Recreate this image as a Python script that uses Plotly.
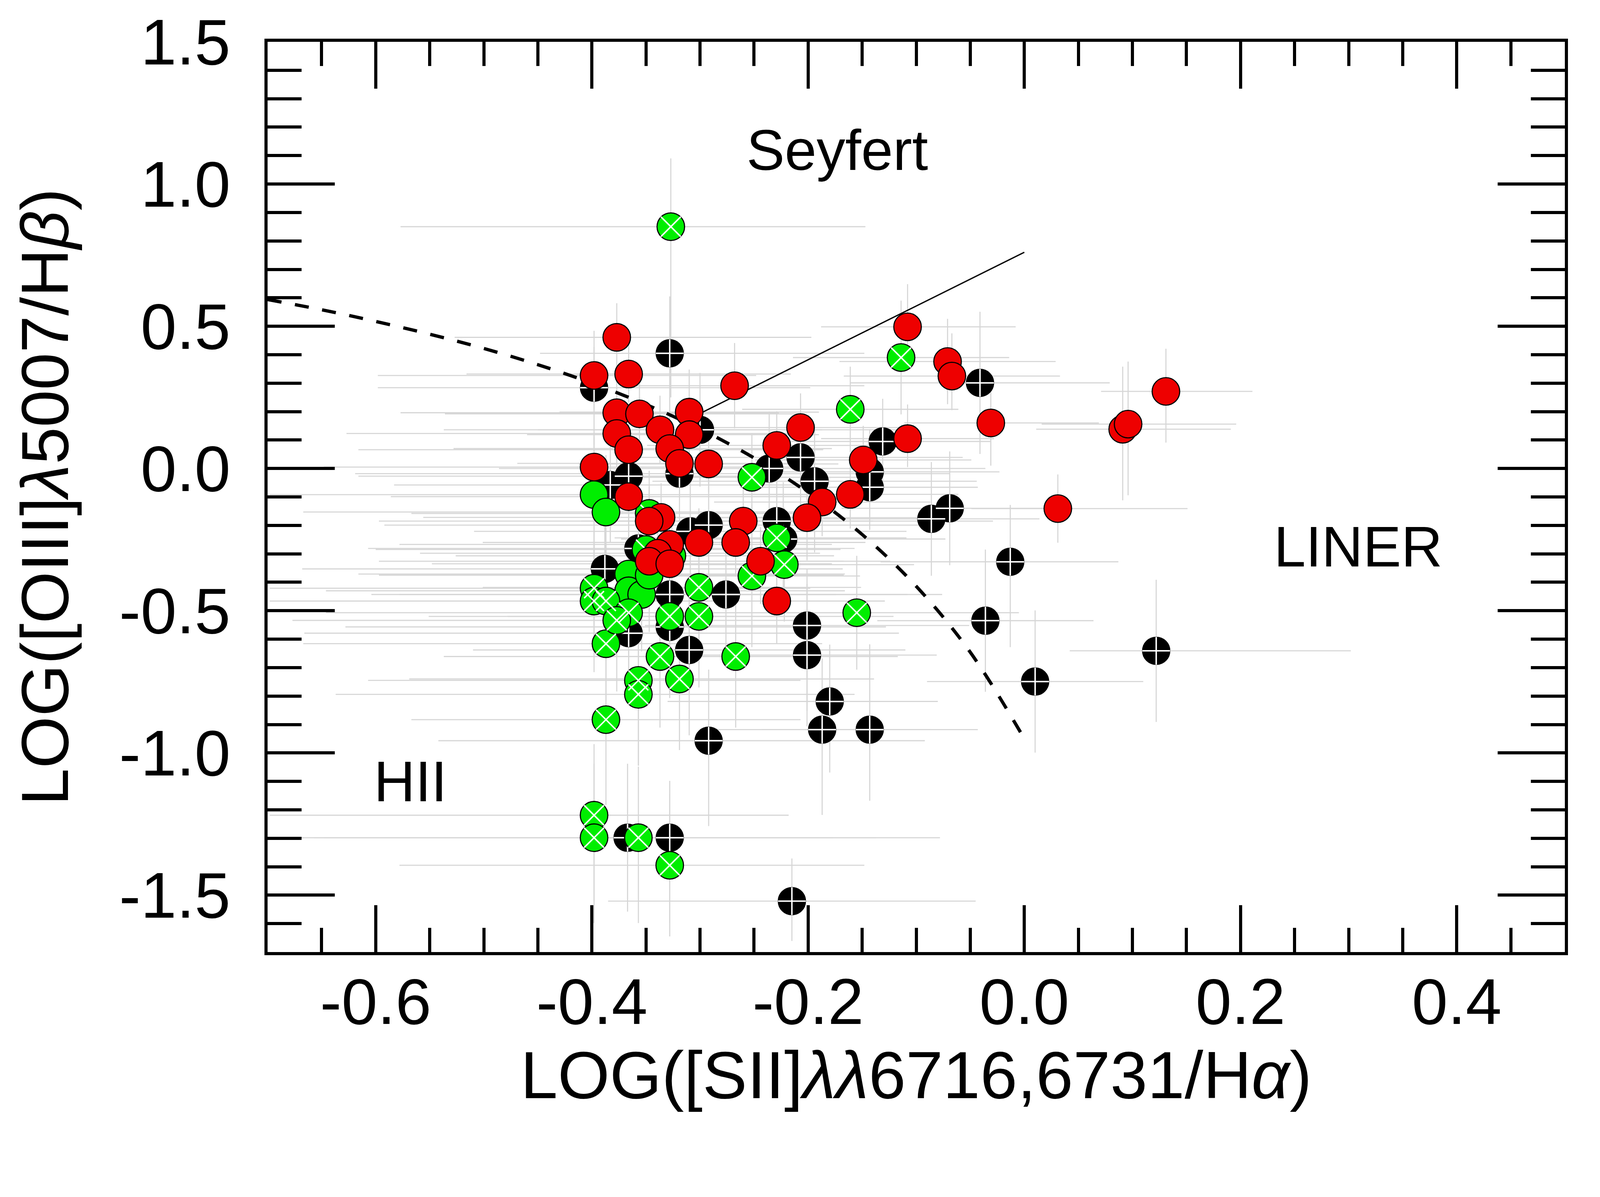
import plotly.graph_objects as go

# points rouges
red_x = [-0.377, -0.398, -0.366, -0.268, -0.108, -0.071, -0.067, -0.031, -0.377, -0.356, -0.310, -0.377, -0.337, -0.310,
         -0.366, -0.328, -0.319, -0.292, -0.398, -0.366, -0.207, -0.229, -0.149, -0.108, -0.161, -0.187, -0.201, -0.336,
         -0.347, -0.260, -0.301, -0.267, -0.328, -0.339, -0.347, -0.328, -0.244, -0.229, 0.091, 0.096, 0.131, 0.031]
red_y = [0.461, 0.327, 0.332, 0.291, 0.498, 0.376, 0.325, 0.160, 0.196, 0.192, 0.198, 0.123, 0.136, 0.119,
         0.066, 0.070, 0.018, 0.016, 0.005, -0.099, 0.144, 0.081, 0.030, 0.105, -0.091, -0.118, -0.173, -0.172,
         -0.185, -0.185, -0.260, -0.260, -0.267, -0.298, -0.326, -0.335, -0.326, -0.466, 0.138, 0.156, 0.271, -0.141]
red_ex_lo = [.15, .20, .15, .10, .08, .10, .10, .08, .20, .18, .12, .25, .20, .15, .25, .20, .15, .12, .25, .22, .10,
             .12, .10, .08, .10, .10, .12, .22, .25, .15, .20, .15, .25, .22, .25, .22, .15, .12, .08, .08, .06, .08]
red_ex_hi = [.18, .15, .15, .12, .10, .10, .10, .10, .15, .15, .12, .18, .15, .12, .18, .15, .12, .12, .20, .18, .10,
             .10, .10, .08, .10, .10, .12, .15, .18, .12, .15, .12, .15, .15, .18, .15, .12, .10, .10, .10, .08, .12]
red_ey_lo = [.10, .12, .10, .15, .12, .15, .12, .15, .15, .12, .15, .12, .12, .15, .12, .12, .12, .10, .15, .15, .12,
             .12, .12, .10, .12, .12, .15, .12, .12, .12, .15, .12, .12, .12, .12, .12, .15, .15, .25, .25, .18, .12]
red_ey_hi = [.12, .10, .12, .15, .15, .15, .15, .15, .12, .12, .15, .12, .12, .12, .12, .12, .12, .10, .12, .12, .12,
             .12, .12, .12, .12, .12, .12, .12, .12, .12, .12, .12, .12, .12, .12, .12, .12, .15, .22, .22, .15, .12]

# points noirs (croix blanche)
black_x = [-0.328, -0.398, -0.300, -0.041, -0.131, -0.207, -0.236, -0.194, -0.143, -0.143, -0.086, -0.069, -0.366,
           -0.319, -0.383, -0.292, -0.229, -0.223, -0.309, -0.357, -0.388, -0.276, -0.328, -0.328, -0.310, -0.366,
           -0.201, -0.201, -0.180, -0.187, -0.143, -0.292, -0.013, -0.036, 0.010, 0.122, -0.367, -0.328, -0.215]
black_y = [0.405, 0.284, 0.136, 0.301, 0.095, 0.039, 0.000, -0.045, -0.012, -0.066, -0.177, -0.140, -0.027,
           -0.018, -0.058, -0.199, -0.185, -0.248, -0.221, -0.281, -0.353, -0.443, -0.443, -0.557, -0.638, -0.579,
           -0.552, -0.656, -0.819, -0.918, -0.918, -0.957, -0.328, -0.535, -0.749, -0.641, -1.298, -1.298, -1.521]
black_ex_lo = [.12, .20, .15, .12, .10, .15, .25, .15, .10, .12, .10, .10, .25, .30, .20, .30, .15, .15, .20, .25,
               .28, .20, .25, .30, .20, .30, .15, .12, .15, .10, .10, .25, .12, .10, .10, .08, .32, .30, .17]
black_ex_hi = [.18, .20, .20, .12, .10, .15, .20, .15, .12, .10, .10, .10, .12, .25, .20, .20, .20, .15, .20, .20,
               .22, .20, .22, .20, .20, .25, .15, .12, .10, .10, .10, .20, .10, .10, .10, .18, .23, .25, .17]
black_ey_lo = [.25, .20, .20, .25, .15, .20, .20, .25, .15, .15, .20, .20, .20, .20, .20, .20, .20, .20, .20, .25,
               .25, .20, .25, .25, .30, .25, .30, .25, .25, .30, .25, .30, .30, .25, .25, .25, .26, .30, .14]
black_ey_hi = [.20, .20, .20, .25, .15, .20, .20, .20, .15, .15, .20, .20, .20, .20, .20, .20, .20, .20, .20, .20,
               .25, .20, .20, .25, .25, .20, .20, .25, .20, .25, .30, .25, .20, .25, .25, .25, .26, .20, .15]

# points verts avec X blanc
gx_x = [-0.327, -0.114, -0.161, -0.252, -0.347, -0.229, -0.222, -0.252, -0.155, -0.301, -0.301, -0.328, -0.267,
        -0.337, -0.319, -0.357, -0.357, -0.387, -0.398, -0.398, -0.357, -0.328, -0.387, -0.398, -0.398, -0.387,
        -0.366, -0.377, -0.350]
gx_y = [0.850, 0.390, 0.208, -0.031, -0.158, -0.244, -0.338, -0.378, -0.507, -0.418, -0.520, -0.520, -0.661,
        -0.661, -0.740, -0.745, -0.794, -0.883, -1.219, -1.298, -1.298, -1.395, -0.616, -0.421, -0.466, -0.466,
        -0.507, -0.534, -0.285]
gx_ex_lo = [.25, .10, .10, .15, .22, .15, .12, .10, .20, .20, .25, .15, .22, .20, .25, .25, .28, .18, .30, .25, .30,
            .25, .28, .30, .30, .25, .28, .30, .25]
gx_ex_hi = [.18, .10, .10, .12, .15, .12, .12, .10, .15, .15, .18, .12, .15, .15, .18, .15, .20, .18, .18, .20, .18,
            .18, .20, .20, .18, .18, .20, .18, .18]
gx_ey_lo = [.60, .20, .15, .15, .15, .20, .20, .25, .20, .25, .25, .25, .25, .25, .25, .30, .25, .30, .30, .30, .30,
            .25, .20, .20, .25, .20, .25, .25, .15]
gx_ey_hi = [.24, .20, .15, .15, .15, .20, .20, .25, .20, .25, .25, .20, .25, .25, .20, .25, .25, .25, .25, .26, .25,
            .25, .20, .20, .20, .20, .20, .20, .15]

# points verts sans X
gp_x = [-0.398, -0.387, -0.366, -0.366, -0.354, -0.326, -0.347]
gp_y = [-0.092, -0.153, -0.371, -0.430, -0.443, -0.307, -0.375]
gp_ex_lo = [.30, .28, .25, .28, .25, .20, .25]
gp_ex_hi = [.20, .20, .20, .20, .18, .15, .18]
gp_ey_lo = [.20, .20, .20, .20, .20, .15, .20]
gp_ey_hi = [.20, .20, .20, .20, .20, .15, .20]

# lignes de démarcation
kew01_x = [-0.70, -0.65, -0.60, -0.55, -0.50, -0.45, -0.40, -0.35, -0.30, -0.25, -0.20, -0.15, -0.10, -0.05, 0.00]
kew01_y = [0.594, 0.558, 0.517, 0.472, 0.422, 0.365, 0.300, 0.225, 0.139, 0.037, -0.085, -0.232, -0.414, -0.646, -0.950]
kew06_x = [-0.315, 0.0]
kew06_y = [0.165, 0.76]

x_tick_vals = [-0.6, -0.4, -0.2, 0.0, 0.2, 0.4]
x_tick_text = ['-0.6', '-0.4', '-0.2', '0.0', '0.2', '0.4']
y_tick_vals = [1.5, 1.0, 0.5, 0.0, -0.5, -1.0, -1.5]
y_tick_text = ['1.5', '1.0', '0.5', '0.0', '-0.5', '-1.0', '-1.5']

# la page est photographiée un peu agrandie : on réduit tout
S = 0.9403


def px(v):
    return v * S


FONT = 'Liberation Sans'
GRIS = '#d6d6d6'
ROUGE = '#ee0000'
VERT = '#00ee00'
TAILLE = px(75)
TAILLE_SYM = px(54)

fig = go.Figure()

# barres d'erreur derrière tous les symboles
for gx, gy, xl, xh, yl, yh in [(black_x, black_y, black_ex_lo, black_ex_hi, black_ey_lo, black_ey_hi),
                               (gx_x, gx_y, gx_ex_lo, gx_ex_hi, gx_ey_lo, gx_ey_hi),
                               (gp_x, gp_y, gp_ex_lo, gp_ex_hi, gp_ey_lo, gp_ey_hi),
                               (red_x, red_y, red_ex_lo, red_ex_hi, red_ey_lo, red_ey_hi)]:
    fig.add_trace(go.Scatter(
        x=gx, y=gy, mode='markers',
        marker=dict(size=1, color='rgba(0,0,0,0)'),
        error_x=dict(type='data', symmetric=False, array=xh, arrayminus=xl, color=GRIS, thickness=px(3), width=0),
        error_y=dict(type='data', symmetric=False, array=yh, arrayminus=yl, color=GRIS, thickness=px(3), width=0),
        showlegend=False, hoverinfo='skip'))

# lignes
fig.add_trace(go.Scatter(x=kew01_x, y=kew01_y, mode='lines',
                         line=dict(color='black', width=px(9), dash='%dpx,%dpx' % (px(39), px(38)), shape='spline'),
                         showlegend=False))
fig.add_trace(go.Scatter(x=kew06_x, y=kew06_y, mode='lines', line=dict(color='black', width=px(3.5)), showlegend=False))

# noirs
fig.add_trace(go.Scatter(x=black_x, y=black_y, mode='markers',
                         marker=dict(symbol='circle', size=TAILLE, color='black', line=dict(color='black', width=px(2))),
                         showlegend=False))
fig.add_trace(go.Scatter(x=black_x, y=black_y, mode='markers',
                         marker=dict(symbol='cross-thin-open', size=TAILLE_SYM, color='white',
                                     line=dict(color='white', width=px(4))),
                         showlegend=False))
# verts
fig.add_trace(go.Scatter(x=gp_x, y=gp_y, mode='markers',
                         marker=dict(symbol='circle', size=TAILLE, color=VERT, line=dict(color='black', width=px(3))),
                         showlegend=False))
fig.add_trace(go.Scatter(x=gx_x, y=gx_y, mode='markers',
                         marker=dict(symbol='circle', size=TAILLE, color=VERT, line=dict(color='black', width=px(3))),
                         showlegend=False))
fig.add_trace(go.Scatter(x=gx_x, y=gx_y, mode='markers',
                         marker=dict(symbol='x-thin-open', size=TAILLE_SYM, color='white',
                                     line=dict(color='white', width=px(4))),
                         showlegend=False))
# rouges
fig.add_trace(go.Scatter(x=red_x, y=red_y, mode='markers',
                         marker=dict(symbol='circle', size=TAILLE, color=ROUGE, line=dict(color='black', width=px(3))),
                         showlegend=False))

for txt, tx, ty in [('Seyfert', -0.173, 1.12), ('LINER', 0.309, -0.274), ('HII', -0.568, -1.10)]:
    fig.add_annotation(x=tx, y=ty, text=txt, showarrow=False, font=dict(family=FONT, size=px(156), color='black'))

axe = dict(showgrid=False, zeroline=False, showline=True, linecolor='black', linewidth=px(8), mirror='ticks',
           ticks='inside', tickwidth=px(8), tickcolor='black', tickmode='array', automargin=False,
           tickfont=dict(family=FONT, size=px(176), color='black'))

fig.update_xaxes(axe, range=[-0.7, 0.5], tickvals=x_tick_vals, ticktext=x_tick_text, ticklen=px(128),
                 ticklabelstandoff=round(px(-23)),
                 minor=dict(ticks='inside', dtick=0.05, tick0=0, ticklen=px(66), tickwidth=px(8), tickcolor='black'),
                 title=dict(text='LOG([SII]<i>λλ</i>6716,6731/H<i>α</i>)',
                            font=dict(family=FONT, size=px(182), color='black'), standoff=round(px(18))))
fig.update_yaxes(axe, range=[-1.7, 1.5], tickvals=y_tick_vals, ticktext=y_tick_text, ticklen=px(183),
                 ticklabelstandoff=round(px(57)),
                 minor=dict(ticks='inside', dtick=0.1, tick0=0, ticklen=px(93), tickwidth=px(8), tickcolor='black'),
                 title=dict(text='LOG([OIII]<i>λ</i>5007/H<i>β</i>)',
                            font=dict(family=FONT, size=px(182), color='black'), standoff=round(px(80))))

fig.update_layout(width=4074, height=2865, plot_bgcolor='white', paper_bgcolor='white',
                  margin=dict(l=677, r=76, t=99, b=436), showlegend=False)

fig.write_html('out.html')
